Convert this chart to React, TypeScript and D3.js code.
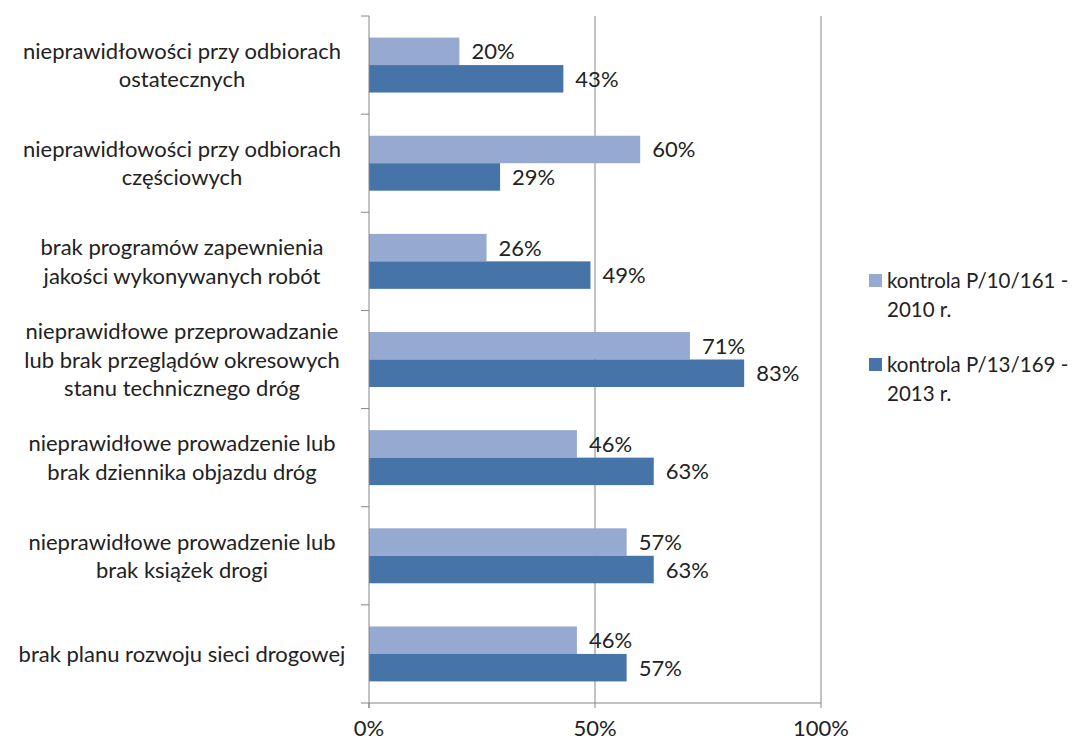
import React, { useEffect, useRef } from 'react';
import * as d3 from 'd3';

const categories = [
  ['nieprawidłowości przy odbiorach', 'ostatecznych'],
  ['nieprawidłowości przy odbiorach', 'częściowych'],
  ['brak programów zapewnienia', 'jakości wykonywanych robót'],
  ['nieprawidłowe przeprowadzanie', 'lub brak przeglądów okresowych', 'stanu technicznego dróg'],
  ['nieprawidłowe prowadzenie lub', 'brak dziennika objazdu dróg'],
  ['nieprawidłowe prowadzenie lub', 'brak książek drogi'],
  ['brak planu rozwoju sieci drogowej'],
];
const series2010 = [20, 60, 26, 71, 46, 57, 46];
const series2013 = [43, 29, 49, 83, 63, 63, 57];
const seriesNames = [
  ['kontrola P/10/161 -', '2010 r.'],
  ['kontrola P/13/169 -', '2013 r.'],
];
const tickValues = [0, 50, 100];

const colors = ['#95A9D1', '#4673A8'];
const FONT = 'Lato, "Open Sans", sans-serif';
const FS = 22;

export default function App() {
  const ref = useRef<SVGSVGElement>(null);

  useEffect(() => {
    const svg = d3.select(ref.current);
    svg.selectAll('*').remove();

    const left = 369, right = 821, top = 16, bottom = 703;
    const x = d3.scaleLinear().domain([0, 100]).range([left, right]);
    const ids = categories.map((_, i) => i);
    const y = d3.scaleBand<number>().domain(ids).range([top, bottom]).paddingInner(0).paddingOuter(0);
    const bw = y.bandwidth();
    const groupPad = bw * 0.22;
    const sub = d3.scaleBand<number>().domain([0, 1]).range([groupPad, bw - groupPad]);

    // gridlines
    tickValues.filter(t => t > 0).forEach(t => {
      svg.append('line')
        .attr('x1', x(t)).attr('x2', x(t))
        .attr('y1', top).attr('y2', bottom)
        .attr('stroke', '#868686').attr('stroke-width', 1);
    });

    const series = [series2010, series2013];
    series.forEach((vals, s) => {
      svg.append('g').selectAll('rect')
        .data(vals)
        .enter().append('rect')
        .attr('x', x(0))
        .attr('y', (d, i) => (y(i) as number) + (sub(s) as number))
        .attr('width', d => x(d) - x(0))
        .attr('height', sub.bandwidth())
        .attr('fill', colors[s]);

      svg.append('g').selectAll('text')
        .data(vals)
        .enter().append('text')
        .attr('x', d => x(d) + 12)
        .attr('y', (d, i) => (y(i) as number) + (sub(s) as number) + sub.bandwidth() / 2 + 8)
        .attr('font-family', FONT)
        .attr('font-size', FS)
        .attr('fill', '#222')
        .text(d => d + '%');
    });

    // left axis
    svg.append('line')
      .attr('x1', left).attr('x2', left).attr('y1', top).attr('y2', bottom + 5)
      .attr('stroke', '#868686');
    const yTicks = d3.range(categories.length + 1).map(i => top + i * bw);
    yTicks.forEach(t => {
      svg.append('line')
        .attr('x1', left - 8).attr('x2', left).attr('y1', t).attr('y2', t)
        .attr('stroke', '#868686');
    });
    // bottom axis
    svg.append('line')
      .attr('x1', left).attr('x2', right).attr('y1', bottom).attr('y2', bottom)
      .attr('stroke', '#868686');
    tickValues.forEach(t => {
      svg.append('line')
        .attr('x1', x(t)).attr('x2', x(t)).attr('y1', bottom).attr('y2', bottom + 5)
        .attr('stroke', '#868686');
      svg.append('text')
        .attr('x', x(t)).attr('y', bottom + 33)
        .attr('text-anchor', 'middle')
        .attr('font-family', FONT).attr('font-size', FS)
        .attr('fill', '#222')
        .text(t + '%');
    });

    // category labels
    const lh = 28.5;
    categories.forEach((lines, i) => {
      const cy = (y(i) as number) + bw / 2;
      const t = svg.append('text')
        .attr('text-anchor', 'middle')
        .attr('font-family', FONT).attr('font-size', FS)
        .attr('fill', '#222');
      lines.forEach((ln, j) => {
        t.append('tspan')
          .attr('x', 182)
          .attr('y', cy + (j - (lines.length - 1) / 2) * lh + 8)
          .text(ln);
      });
    });

    // legend
    const legY = [280, 364];
    seriesNames.forEach((lines, s) => {
      svg.append('rect')
        .attr('x', 869).attr('y', legY[s] - 6).attr('width', 13).attr('height', 13)
        .attr('fill', colors[s]);
      lines.forEach((ln, j) => {
        svg.append('text')
          .attr('x', 887).attr('y', legY[s] + 8 + j * lh)
          .attr('font-family', FONT).attr('font-size', 20.5)
          .attr('fill', '#222')
          .text(ln);
      });
    });
  }, []);

  return (
    <svg ref={ref} width={1081} height={744}
      style={{ position: 'absolute', left: 0, top: 0, background: '#fff' }} />
  );
}
